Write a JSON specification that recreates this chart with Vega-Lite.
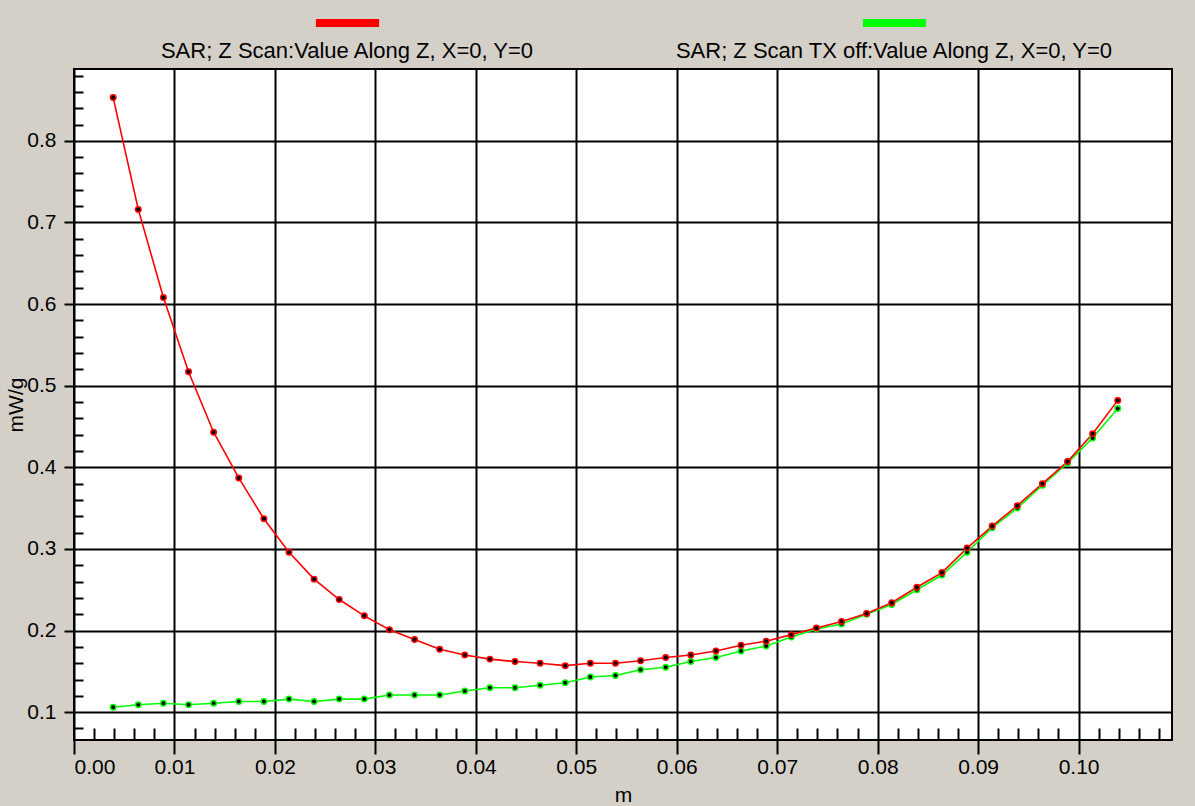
{
  "$schema": "https://vega.github.io/schema/vega-lite/v6.json",
  "width": 1098,
  "height": 671,
  "autosize": {"type": "none"},
  "padding": {"left": 74, "top": 69, "right": 23, "bottom": 66},
  "background": "#D4D0C8",
  "datasets": {
    "scan": [
      {"z": 0.0039, "sar": 0.106, "s": "SAR; Z Scan TX off:Value Along Z, X=0, Y=0"},
      {"z": 0.0064, "sar": 0.109, "s": "SAR; Z Scan TX off:Value Along Z, X=0, Y=0"},
      {"z": 0.0089, "sar": 0.111, "s": "SAR; Z Scan TX off:Value Along Z, X=0, Y=0"},
      {"z": 0.0114, "sar": 0.109, "s": "SAR; Z Scan TX off:Value Along Z, X=0, Y=0"},
      {"z": 0.0139, "sar": 0.111, "s": "SAR; Z Scan TX off:Value Along Z, X=0, Y=0"},
      {"z": 0.0164, "sar": 0.113, "s": "SAR; Z Scan TX off:Value Along Z, X=0, Y=0"},
      {"z": 0.0189, "sar": 0.113, "s": "SAR; Z Scan TX off:Value Along Z, X=0, Y=0"},
      {"z": 0.0214, "sar": 0.116, "s": "SAR; Z Scan TX off:Value Along Z, X=0, Y=0"},
      {"z": 0.0239, "sar": 0.113, "s": "SAR; Z Scan TX off:Value Along Z, X=0, Y=0"},
      {"z": 0.0264, "sar": 0.116, "s": "SAR; Z Scan TX off:Value Along Z, X=0, Y=0"},
      {"z": 0.0289, "sar": 0.116, "s": "SAR; Z Scan TX off:Value Along Z, X=0, Y=0"},
      {"z": 0.0314, "sar": 0.121, "s": "SAR; Z Scan TX off:Value Along Z, X=0, Y=0"},
      {"z": 0.0339, "sar": 0.121, "s": "SAR; Z Scan TX off:Value Along Z, X=0, Y=0"},
      {"z": 0.0364, "sar": 0.121, "s": "SAR; Z Scan TX off:Value Along Z, X=0, Y=0"},
      {"z": 0.0389, "sar": 0.126, "s": "SAR; Z Scan TX off:Value Along Z, X=0, Y=0"},
      {"z": 0.0414, "sar": 0.130, "s": "SAR; Z Scan TX off:Value Along Z, X=0, Y=0"},
      {"z": 0.0439, "sar": 0.130, "s": "SAR; Z Scan TX off:Value Along Z, X=0, Y=0"},
      {"z": 0.0464, "sar": 0.133, "s": "SAR; Z Scan TX off:Value Along Z, X=0, Y=0"},
      {"z": 0.0489, "sar": 0.136, "s": "SAR; Z Scan TX off:Value Along Z, X=0, Y=0"},
      {"z": 0.0514, "sar": 0.143, "s": "SAR; Z Scan TX off:Value Along Z, X=0, Y=0"},
      {"z": 0.0539, "sar": 0.145, "s": "SAR; Z Scan TX off:Value Along Z, X=0, Y=0"},
      {"z": 0.0564, "sar": 0.152, "s": "SAR; Z Scan TX off:Value Along Z, X=0, Y=0"},
      {"z": 0.0589, "sar": 0.155, "s": "SAR; Z Scan TX off:Value Along Z, X=0, Y=0"},
      {"z": 0.0614, "sar": 0.162, "s": "SAR; Z Scan TX off:Value Along Z, X=0, Y=0"},
      {"z": 0.0639, "sar": 0.167, "s": "SAR; Z Scan TX off:Value Along Z, X=0, Y=0"},
      {"z": 0.0664, "sar": 0.175, "s": "SAR; Z Scan TX off:Value Along Z, X=0, Y=0"},
      {"z": 0.0689, "sar": 0.181, "s": "SAR; Z Scan TX off:Value Along Z, X=0, Y=0"},
      {"z": 0.0714, "sar": 0.192, "s": "SAR; Z Scan TX off:Value Along Z, X=0, Y=0"},
      {"z": 0.0739, "sar": 0.202, "s": "SAR; Z Scan TX off:Value Along Z, X=0, Y=0"},
      {"z": 0.0764, "sar": 0.208, "s": "SAR; Z Scan TX off:Value Along Z, X=0, Y=0"},
      {"z": 0.0789, "sar": 0.220, "s": "SAR; Z Scan TX off:Value Along Z, X=0, Y=0"},
      {"z": 0.0814, "sar": 0.232, "s": "SAR; Z Scan TX off:Value Along Z, X=0, Y=0"},
      {"z": 0.0839, "sar": 0.250, "s": "SAR; Z Scan TX off:Value Along Z, X=0, Y=0"},
      {"z": 0.0864, "sar": 0.268, "s": "SAR; Z Scan TX off:Value Along Z, X=0, Y=0"},
      {"z": 0.0889, "sar": 0.296, "s": "SAR; Z Scan TX off:Value Along Z, X=0, Y=0"},
      {"z": 0.0914, "sar": 0.326, "s": "SAR; Z Scan TX off:Value Along Z, X=0, Y=0"},
      {"z": 0.0939, "sar": 0.350, "s": "SAR; Z Scan TX off:Value Along Z, X=0, Y=0"},
      {"z": 0.0964, "sar": 0.378, "s": "SAR; Z Scan TX off:Value Along Z, X=0, Y=0"},
      {"z": 0.0989, "sar": 0.405, "s": "SAR; Z Scan TX off:Value Along Z, X=0, Y=0"},
      {"z": 0.1014, "sar": 0.436, "s": "SAR; Z Scan TX off:Value Along Z, X=0, Y=0"},
      {"z": 0.1039, "sar": 0.472, "s": "SAR; Z Scan TX off:Value Along Z, X=0, Y=0"},
      {"z": 0.0039, "sar": 0.853, "s": "SAR; Z Scan:Value Along Z, X=0, Y=0"},
      {"z": 0.0064, "sar": 0.716, "s": "SAR; Z Scan:Value Along Z, X=0, Y=0"},
      {"z": 0.0089, "sar": 0.608, "s": "SAR; Z Scan:Value Along Z, X=0, Y=0"},
      {"z": 0.0114, "sar": 0.517, "s": "SAR; Z Scan:Value Along Z, X=0, Y=0"},
      {"z": 0.0139, "sar": 0.443, "s": "SAR; Z Scan:Value Along Z, X=0, Y=0"},
      {"z": 0.0164, "sar": 0.387, "s": "SAR; Z Scan:Value Along Z, X=0, Y=0"},
      {"z": 0.0189, "sar": 0.337, "s": "SAR; Z Scan:Value Along Z, X=0, Y=0"},
      {"z": 0.0214, "sar": 0.296, "s": "SAR; Z Scan:Value Along Z, X=0, Y=0"},
      {"z": 0.0239, "sar": 0.263, "s": "SAR; Z Scan:Value Along Z, X=0, Y=0"},
      {"z": 0.0264, "sar": 0.238, "s": "SAR; Z Scan:Value Along Z, X=0, Y=0"},
      {"z": 0.0289, "sar": 0.218, "s": "SAR; Z Scan:Value Along Z, X=0, Y=0"},
      {"z": 0.0314, "sar": 0.201, "s": "SAR; Z Scan:Value Along Z, X=0, Y=0"},
      {"z": 0.0339, "sar": 0.189, "s": "SAR; Z Scan:Value Along Z, X=0, Y=0"},
      {"z": 0.0364, "sar": 0.177, "s": "SAR; Z Scan:Value Along Z, X=0, Y=0"},
      {"z": 0.0389, "sar": 0.170, "s": "SAR; Z Scan:Value Along Z, X=0, Y=0"},
      {"z": 0.0414, "sar": 0.165, "s": "SAR; Z Scan:Value Along Z, X=0, Y=0"},
      {"z": 0.0439, "sar": 0.162, "s": "SAR; Z Scan:Value Along Z, X=0, Y=0"},
      {"z": 0.0464, "sar": 0.160, "s": "SAR; Z Scan:Value Along Z, X=0, Y=0"},
      {"z": 0.0489, "sar": 0.157, "s": "SAR; Z Scan:Value Along Z, X=0, Y=0"},
      {"z": 0.0514, "sar": 0.160, "s": "SAR; Z Scan:Value Along Z, X=0, Y=0"},
      {"z": 0.0539, "sar": 0.160, "s": "SAR; Z Scan:Value Along Z, X=0, Y=0"},
      {"z": 0.0564, "sar": 0.163, "s": "SAR; Z Scan:Value Along Z, X=0, Y=0"},
      {"z": 0.0589, "sar": 0.167, "s": "SAR; Z Scan:Value Along Z, X=0, Y=0"},
      {"z": 0.0614, "sar": 0.170, "s": "SAR; Z Scan:Value Along Z, X=0, Y=0"},
      {"z": 0.0639, "sar": 0.175, "s": "SAR; Z Scan:Value Along Z, X=0, Y=0"},
      {"z": 0.0664, "sar": 0.182, "s": "SAR; Z Scan:Value Along Z, X=0, Y=0"},
      {"z": 0.0689, "sar": 0.187, "s": "SAR; Z Scan:Value Along Z, X=0, Y=0"},
      {"z": 0.0714, "sar": 0.195, "s": "SAR; Z Scan:Value Along Z, X=0, Y=0"},
      {"z": 0.0739, "sar": 0.203, "s": "SAR; Z Scan:Value Along Z, X=0, Y=0"},
      {"z": 0.0764, "sar": 0.211, "s": "SAR; Z Scan:Value Along Z, X=0, Y=0"},
      {"z": 0.0789, "sar": 0.221, "s": "SAR; Z Scan:Value Along Z, X=0, Y=0"},
      {"z": 0.0814, "sar": 0.234, "s": "SAR; Z Scan:Value Along Z, X=0, Y=0"},
      {"z": 0.0839, "sar": 0.253, "s": "SAR; Z Scan:Value Along Z, X=0, Y=0"},
      {"z": 0.0864, "sar": 0.271, "s": "SAR; Z Scan:Value Along Z, X=0, Y=0"},
      {"z": 0.0889, "sar": 0.301, "s": "SAR; Z Scan:Value Along Z, X=0, Y=0"},
      {"z": 0.0914, "sar": 0.328, "s": "SAR; Z Scan:Value Along Z, X=0, Y=0"},
      {"z": 0.0939, "sar": 0.353, "s": "SAR; Z Scan:Value Along Z, X=0, Y=0"},
      {"z": 0.0964, "sar": 0.380, "s": "SAR; Z Scan:Value Along Z, X=0, Y=0"},
      {"z": 0.0989, "sar": 0.407, "s": "SAR; Z Scan:Value Along Z, X=0, Y=0"},
      {"z": 0.1014, "sar": 0.441, "s": "SAR; Z Scan:Value Along Z, X=0, Y=0"},
      {"z": 0.1039, "sar": 0.482, "s": "SAR; Z Scan:Value Along Z, X=0, Y=0"}
    ]
  },
  "data": {"name": "scan"},
  "layer": [
    {
      "mark": {"type": "line", "strokeWidth": 1.6, "clip": true},
      "encoding": {
        "x": {
          "field": "z", "type": "quantitative",
          "scale": {"domain": [0, 0.1093], "nice": false, "zero": false},
          "axis": {
            "orient": "bottom",
            "values": [0, 0.01, 0.02, 0.03, 0.04, 0.05, 0.06, 0.07, 0.08, 0.09, 0.1],
            "format": ".2f", "grid": true, "tickSize": 14, "labelPadding": 2,
            "title": "m", "titlePadding": 7
          }
        },
        "y": {
          "field": "sar", "type": "quantitative",
          "scale": {"domain": [0.0659, 0.888], "nice": false, "zero": false},
          "axis": {
            "orient": "left",
            "values": [0.1, 0.2, 0.3, 0.4, 0.5, 0.6, 0.7, 0.8],
            "format": ".1f", "grid": true, "tickSize": 10, "labelPadding": 8,
            "title": "mW/g", "titlePadding": 0
          }
        },
        "color": {
          "field": "s", "type": "nominal",
          "scale": {
            "domain": ["SAR; Z Scan:Value Along Z, X=0, Y=0", "SAR; Z Scan TX off:Value Along Z, X=0, Y=0"],
            "range": ["#FF0000", "#00FF00"]
          },
          "legend": {
            "orient": "none", "legendX": 251, "legendY": -29,
            "direction": "horizontal", "columns": 2, "columnPadding": 140,
            "title": null, "padding": 0,
            "symbolType": "M -19.5 -31.5 H 42.5 V -24.5 H -19.5 Z",
            "symbolSize": 4, "symbolStrokeWidth": 1, "symbolStrokeColor": "black",
            "labelAlign": "center", "labelOffset": 0,
            "labelFont": "Liberation Sans", "labelFontSize": 22, "labelColor": "#000000",
            "labelLimit": 0,
            "encoding": {
              "symbols": {
                "fill": {"value": {"expr": "scale('color', datum.value)"}},
                "stroke": {"value": "black"},
                "strokeWidth": {"value": 1.2},
                "opacity": {"value": 1}
              }
            }
          }
        }
      }
    },
    {
      "mark": {"type": "point", "filled": true, "fill": "black", "size": 30, "strokeWidth": 1.5, "opacity": 1, "clip": true},
      "encoding": {
        "x": {
          "field": "z", "type": "quantitative",
          "axis": {
            "orient": "bottom",
            "values": [0.002, 0.004, 0.006, 0.008, 0.012, 0.014, 0.016, 0.018, 0.022, 0.024, 0.026, 0.028, 0.032, 0.034, 0.036, 0.038, 0.042, 0.044, 0.046, 0.048, 0.052, 0.054, 0.056, 0.058, 0.062, 0.064, 0.066, 0.068, 0.072, 0.074, 0.076, 0.078, 0.082, 0.084, 0.086, 0.088, 0.092, 0.094, 0.096, 0.098, 0.102, 0.104, 0.106, 0.108],
            "labels": false, "grid": false, "domain": false, "tickSize": -12, "title": null
          }
        },
        "y": {
          "field": "sar", "type": "quantitative",
          "axis": {
            "orient": "left",
            "values": [0.08, 0.12, 0.14, 0.16, 0.18, 0.22, 0.24, 0.26, 0.28, 0.32, 0.34, 0.36, 0.38, 0.42, 0.44, 0.46, 0.48, 0.52, 0.54, 0.56, 0.58, 0.62, 0.64, 0.66, 0.68, 0.72, 0.74, 0.76, 0.78, 0.82, 0.84, 0.86, 0.88],
            "labels": false, "grid": false, "domain": false, "tickSize": -9, "title": null
          }
        },
        "stroke": {
          "field": "s", "type": "nominal",
          "scale": {
            "domain": ["SAR; Z Scan:Value Along Z, X=0, Y=0", "SAR; Z Scan TX off:Value Along Z, X=0, Y=0"],
            "range": ["#FF0000", "#00FF00"]
          },
          "legend": null
        }
      }
    }
  ],
  "resolve": {"axis": {"x": "independent", "y": "independent"}},
  "config": {
    "view": {"fill": "#FFFFFF", "stroke": "#000000", "strokeWidth": 2},
    "axis": {
      "domain": false,
      "grid": true,
      "gridColor": "#000000", "gridWidth": 2, "gridOpacity": 1,
      "tickColor": "#000000", "tickWidth": 2, "tickOpacity": 1,
      "labelFont": "Liberation Sans", "labelFontSize": 21, "labelColor": "#000000",
      "titleFont": "Liberation Sans", "titleFontSize": 21, "titleFontWeight": "normal", "titleColor": "#000000"
    },
    "legend": {"labelFont": "Liberation Sans"}
  }
}
